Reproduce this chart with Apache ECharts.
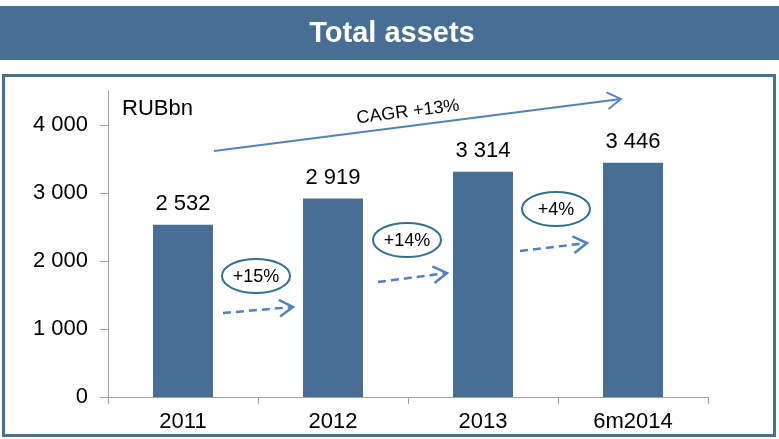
<!DOCTYPE html>
<html>
<head>
<meta charset="utf-8">
<script src="https://cdn.jsdelivr.net/npm/echarts@6/dist/echarts.min.js"></script>
<style>
    html, body {margin: 0; padding: 0; background: #fff;}
    #main {width: 779px; height: 439px;}
</style>
</head>
<body>
<div id="main"></div>
<script>
    // data
    var years = ['2011', '2012', '2013', '6m2014'];
    var assets = [2532, 2919, 3314, 3446];
    var yTicks = [0, 1000, 2000, 3000, 4000];
    var growthLabels = ['+15%', '+14%', '+4%'];
    var cagrLabel = 'CAGR +13%';

    var blue = '#476e94';
    var arrowBlue = '#4f81c7';

    // 2532 -> "2 532"
    function fmt(v) {
        return String(v).replace(/\B(?=(\d{3})+(?!\d))/g, ' ');
    }

    // line + open chevron head
    function arrow(x1, y1, x2, y2, dashed, lw) {
        var a = Math.atan2(y2 - y1, x2 - x1);
        var len = 16, spread = 0.55;
        var p1 = [x2 - len * Math.cos(a - spread), y2 - len * Math.sin(a - spread)];
        var p2 = [x2 - len * Math.cos(a + spread), y2 - len * Math.sin(a + spread)];
        return [{
            type: 'line',
            shape: {x1: x1, y1: y1, x2: x2 - 2 * Math.cos(a), y2: y2 - 2 * Math.sin(a)},
            style: {stroke: arrowBlue, lineWidth: lw, lineDash: dashed ? [8, 5] : null},
            z: 10
        }, {
            type: 'polyline',
            shape: {points: [p1, [x2, y2], p2]},
            style: {stroke: arrowBlue, lineWidth: lw, fill: null},
            z: 10
        }];
    }

    function bubble(cx, cy, txt) {
        return [{
            type: 'ellipse',
            shape: {cx: cx, cy: cy, rx: 34, ry: 17},
            style: {stroke: '#31708f', lineWidth: 2, fill: '#fff'},
            z: 10
        }, {
            type: 'text',
            x: cx, y: cy + 1,
            style: {text: txt, fill: '#000', font: '18px "Liberation Sans", Arial', textAlign: 'center', textVerticalAlign: 'middle'},
            z: 11
        }];
    }

    var graphics = [
        // title bar
        {type: 'rect', shape: {x: 0, y: 6, width: 779, height: 54}, style: {fill: blue}},
        {type: 'text', x: 392, y: 34, style: {text: 'Total assets', fill: '#fff', font: 'bold 29px "Liberation Sans", Arial', textAlign: 'center', textVerticalAlign: 'middle'}},
        // frame
        {type: 'rect', shape: {x: 3.5, y: 75.5, width: 771, height: 360}, style: {fill: null, stroke: blue, lineWidth: 3}},
        {type: 'text', x: 122, y: 109, style: {text: 'RUBbn', fill: '#000', font: '22px "Liberation Sans", Arial', textVerticalAlign: 'middle'}},
        {type: 'text', x: 408, y: 112, rotation: 0.127, style: {text: cagrLabel, fill: '#000', font: '18px "Liberation Sans", Arial', textAlign: 'center', textVerticalAlign: 'middle'}}
    ];
    graphics = graphics
        .concat(arrow(214, 151, 621, 99, false, 1.8))
        .concat(arrow(223, 313, 293, 307, true, 2.5))
        .concat(arrow(378, 282, 447, 273, true, 2.5))
        .concat(arrow(520, 251, 587, 243, true, 2.5))
        .concat(bubble(256, 276, growthLabels[0]))
        .concat(bubble(407, 240, growthLabels[1]))
        .concat(bubble(556, 209, growthLabels[2]));

    var chart = echarts.init(document.getElementById('main'));
    chart.setOption({
        animation: false,
        textStyle: {fontFamily: '"Liberation Sans", Arial'},
        grid: {left: 108, right: 71, top: 91, bottom: 42},
        xAxis: {
            type: 'category',
            data: years,
            axisLine: {lineStyle: {color: '#a0a0a0', width: 1}},
            axisTick: {show: true, length: 7, lineStyle: {color: '#a0a0a0'}},
            axisLabel: {color: '#000', fontSize: 22, margin: 14}
        },
        yAxis: {
            type: 'value',
            min: 0,
            max: 4500,
            interval: 1000,
            splitLine: {show: false},
            axisLine: {show: true, lineStyle: {color: '#a0a0a0', width: 1}},
            axisTick: {show: true, length: 8, customValues: yTicks, lineStyle: {color: '#a0a0a0'}},
            axisLabel: {color: '#000', fontSize: 22, margin: 20, customValues: yTicks, formatter: fmt}
        },
        series: [{
            type: 'bar',
            data: assets,
            barWidth: 60,
            itemStyle: {color: blue},
            label: {
                show: true,
                position: 'top',
                distance: 10,
                color: '#000',
                fontSize: 22,
                formatter: function (p) { return fmt(p.value); }
            }
        }],
        graphic: graphics
    });
</script>
</body>
</html>
